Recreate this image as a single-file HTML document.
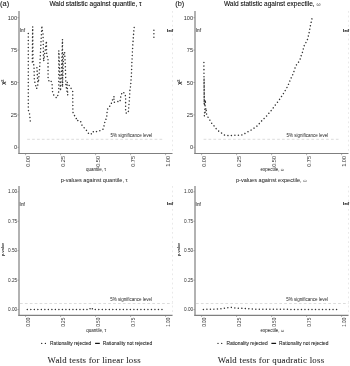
<!DOCTYPE html><html><head><meta charset="utf-8"><style>
html,body{margin:0;padding:0;background:#fff;width:350px;height:366px;overflow:hidden}
svg{display:block;filter:blur(0.35px)}
text{font-family:"Liberation Sans",sans-serif}
.tkt{font-size:5.6px;fill:#2e2e2e}
.tkb{font-size:4.7px;fill:#2e2e2e}
.lab{font-size:7.4px;fill:#1a1a1a;stroke:#1a1a1a;stroke-width:0.1px}
.ttl{font-size:6.55px;fill:#0a0a0a;stroke:#0a0a0a;stroke-width:0.08px}
.ttl2{font-size:5.58px;fill:#1e1e1e;stroke:#1e1e1e;stroke-width:0.03px}
.sig{font-size:4.5px;fill:#1e1e1e}
.inf{font-size:4.7px;fill:#444;stroke:#444;stroke-width:0.1px}
.inf2{font-size:4.1px;fill:#333;stroke:#333;stroke-width:0.25px}
.axt{font-size:4.5px;fill:#111}
.axt2{font-size:4.1px;fill:#111;stroke:#111;stroke-width:0.05px}
.chi{font-size:6px;fill:#111;stroke:#111;stroke-width:0.1px}
.leg{font-size:4.85px;fill:#222;stroke:#222;stroke-width:0.06px}
.cap{font-family:"Liberation Serif",serif;font-size:8.8px;letter-spacing:0.25px;fill:#1a1a1a;stroke:#1a1a1a;stroke-width:0.04px}
</style></head><body><svg width="350" height="366" viewBox="0 0 350 366"><rect width="350" height="366" fill="#fff"/><g class="soft"><line x1="172.5" y1="11" x2="172.5" y2="153.5" stroke="#d6d6d6" stroke-width="0.55" stroke-dasharray="1.8 2.8"/><line x1="19.0" y1="11" x2="19.0" y2="154.1" stroke="#7f7f7f" stroke-width="1.2"/><line x1="18.4" y1="153.5" x2="172.5" y2="153.5" stroke="#7f7f7f" stroke-width="1.2"/><line x1="17.3" y1="17.70" x2="19.0" y2="17.70" stroke="#7f7f7f" stroke-width="0.6"/><text x="17.1" y="19.72" text-anchor="end" class="tkt">100</text><line x1="17.3" y1="50.10" x2="19.0" y2="50.10" stroke="#7f7f7f" stroke-width="0.6"/><text x="17.1" y="52.12" text-anchor="end" class="tkt">75</text><line x1="17.3" y1="82.50" x2="19.0" y2="82.50" stroke="#7f7f7f" stroke-width="0.6"/><text x="17.1" y="84.52" text-anchor="end" class="tkt">50</text><line x1="17.3" y1="114.90" x2="19.0" y2="114.90" stroke="#7f7f7f" stroke-width="0.6"/><text x="17.1" y="116.92" text-anchor="end" class="tkt">25</text><line x1="17.3" y1="147.30" x2="19.0" y2="147.30" stroke="#7f7f7f" stroke-width="0.6"/><text x="17.1" y="149.32" text-anchor="end" class="tkt">0</text><line x1="25.6" y1="153.5" x2="25.6" y2="155.2" stroke="#7f7f7f" stroke-width="0.6"/><text transform="translate(30.02,155.90) rotate(-90)" text-anchor="end" class="tkt">0.00</text><line x1="60.6" y1="153.5" x2="60.6" y2="155.2" stroke="#7f7f7f" stroke-width="0.6"/><text transform="translate(65.02,155.90) rotate(-90)" text-anchor="end" class="tkt">0.25</text><line x1="95.6" y1="153.5" x2="95.6" y2="155.2" stroke="#7f7f7f" stroke-width="0.6"/><text transform="translate(100.02,155.90) rotate(-90)" text-anchor="end" class="tkt">0.50</text><line x1="130.6" y1="153.5" x2="130.6" y2="155.2" stroke="#7f7f7f" stroke-width="0.6"/><text transform="translate(135.02,155.90) rotate(-90)" text-anchor="end" class="tkt">0.75</text><line x1="165.6" y1="153.5" x2="165.6" y2="155.2" stroke="#7f7f7f" stroke-width="0.6"/><text transform="translate(170.02,155.90) rotate(-90)" text-anchor="end" class="tkt">1.00</text><line x1="172.5" y1="186" x2="172.5" y2="315.3" stroke="#d6d6d6" stroke-width="0.55" stroke-dasharray="1.8 2.8"/><line x1="19.0" y1="186" x2="19.0" y2="315.90000000000003" stroke="#7f7f7f" stroke-width="1.2"/><line x1="18.4" y1="315.3" x2="172.5" y2="315.3" stroke="#7f7f7f" stroke-width="1.2"/><line x1="17.3" y1="191.80" x2="19.0" y2="191.80" stroke="#7f7f7f" stroke-width="0.6"/><text x="17.1" y="193.49" text-anchor="end" class="tkb">1.00</text><line x1="17.3" y1="221.25" x2="19.0" y2="221.25" stroke="#7f7f7f" stroke-width="0.6"/><text x="17.1" y="222.94" text-anchor="end" class="tkb">0.75</text><line x1="17.3" y1="250.70" x2="19.0" y2="250.70" stroke="#7f7f7f" stroke-width="0.6"/><text x="17.1" y="252.39" text-anchor="end" class="tkb">0.50</text><line x1="17.3" y1="280.15" x2="19.0" y2="280.15" stroke="#7f7f7f" stroke-width="0.6"/><text x="17.1" y="281.84" text-anchor="end" class="tkb">0.25</text><line x1="17.3" y1="309.60" x2="19.0" y2="309.60" stroke="#7f7f7f" stroke-width="0.6"/><text x="17.1" y="311.29" text-anchor="end" class="tkb">0.00</text><line x1="25.6" y1="315.3" x2="25.6" y2="317.0" stroke="#7f7f7f" stroke-width="0.6"/><text transform="translate(29.69,317.70) rotate(-90)" text-anchor="end" class="tkb">0.00</text><line x1="60.6" y1="315.3" x2="60.6" y2="317.0" stroke="#7f7f7f" stroke-width="0.6"/><text transform="translate(64.69,317.70) rotate(-90)" text-anchor="end" class="tkb">0.25</text><line x1="95.6" y1="315.3" x2="95.6" y2="317.0" stroke="#7f7f7f" stroke-width="0.6"/><text transform="translate(99.69,317.70) rotate(-90)" text-anchor="end" class="tkb">0.50</text><line x1="130.6" y1="315.3" x2="130.6" y2="317.0" stroke="#7f7f7f" stroke-width="0.6"/><text transform="translate(134.69,317.70) rotate(-90)" text-anchor="end" class="tkb">0.75</text><line x1="165.6" y1="315.3" x2="165.6" y2="317.0" stroke="#7f7f7f" stroke-width="0.6"/><text transform="translate(169.69,317.70) rotate(-90)" text-anchor="end" class="tkb">1.00</text><line x1="348.5" y1="11" x2="348.5" y2="153.5" stroke="#d6d6d6" stroke-width="0.55" stroke-dasharray="1.8 2.8"/><line x1="195.0" y1="11" x2="195.0" y2="154.1" stroke="#7f7f7f" stroke-width="1.2"/><line x1="194.4" y1="153.5" x2="348.5" y2="153.5" stroke="#7f7f7f" stroke-width="1.2"/><line x1="193.3" y1="17.70" x2="195.0" y2="17.70" stroke="#7f7f7f" stroke-width="0.6"/><text x="193.1" y="19.72" text-anchor="end" class="tkt">100</text><line x1="193.3" y1="50.10" x2="195.0" y2="50.10" stroke="#7f7f7f" stroke-width="0.6"/><text x="193.1" y="52.12" text-anchor="end" class="tkt">75</text><line x1="193.3" y1="82.50" x2="195.0" y2="82.50" stroke="#7f7f7f" stroke-width="0.6"/><text x="193.1" y="84.52" text-anchor="end" class="tkt">50</text><line x1="193.3" y1="114.90" x2="195.0" y2="114.90" stroke="#7f7f7f" stroke-width="0.6"/><text x="193.1" y="116.92" text-anchor="end" class="tkt">25</text><line x1="193.3" y1="147.30" x2="195.0" y2="147.30" stroke="#7f7f7f" stroke-width="0.6"/><text x="193.1" y="149.32" text-anchor="end" class="tkt">0</text><line x1="201.6" y1="153.5" x2="201.6" y2="155.2" stroke="#7f7f7f" stroke-width="0.6"/><text transform="translate(206.02,155.90) rotate(-90)" text-anchor="end" class="tkt">0.00</text><line x1="236.6" y1="153.5" x2="236.6" y2="155.2" stroke="#7f7f7f" stroke-width="0.6"/><text transform="translate(241.02,155.90) rotate(-90)" text-anchor="end" class="tkt">0.25</text><line x1="271.6" y1="153.5" x2="271.6" y2="155.2" stroke="#7f7f7f" stroke-width="0.6"/><text transform="translate(276.02,155.90) rotate(-90)" text-anchor="end" class="tkt">0.50</text><line x1="306.6" y1="153.5" x2="306.6" y2="155.2" stroke="#7f7f7f" stroke-width="0.6"/><text transform="translate(311.02,155.90) rotate(-90)" text-anchor="end" class="tkt">0.75</text><line x1="341.6" y1="153.5" x2="341.6" y2="155.2" stroke="#7f7f7f" stroke-width="0.6"/><text transform="translate(346.02,155.90) rotate(-90)" text-anchor="end" class="tkt">1.00</text><line x1="348.5" y1="186" x2="348.5" y2="315.3" stroke="#d6d6d6" stroke-width="0.55" stroke-dasharray="1.8 2.8"/><line x1="195.0" y1="186" x2="195.0" y2="315.90000000000003" stroke="#7f7f7f" stroke-width="1.2"/><line x1="194.4" y1="315.3" x2="348.5" y2="315.3" stroke="#7f7f7f" stroke-width="1.2"/><line x1="193.3" y1="191.80" x2="195.0" y2="191.80" stroke="#7f7f7f" stroke-width="0.6"/><text x="193.1" y="193.49" text-anchor="end" class="tkb">1.00</text><line x1="193.3" y1="221.25" x2="195.0" y2="221.25" stroke="#7f7f7f" stroke-width="0.6"/><text x="193.1" y="222.94" text-anchor="end" class="tkb">0.75</text><line x1="193.3" y1="250.70" x2="195.0" y2="250.70" stroke="#7f7f7f" stroke-width="0.6"/><text x="193.1" y="252.39" text-anchor="end" class="tkb">0.50</text><line x1="193.3" y1="280.15" x2="195.0" y2="280.15" stroke="#7f7f7f" stroke-width="0.6"/><text x="193.1" y="281.84" text-anchor="end" class="tkb">0.25</text><line x1="193.3" y1="309.60" x2="195.0" y2="309.60" stroke="#7f7f7f" stroke-width="0.6"/><text x="193.1" y="311.29" text-anchor="end" class="tkb">0.00</text><line x1="201.6" y1="315.3" x2="201.6" y2="317.0" stroke="#7f7f7f" stroke-width="0.6"/><text transform="translate(205.69,317.70) rotate(-90)" text-anchor="end" class="tkb">0.00</text><line x1="236.6" y1="315.3" x2="236.6" y2="317.0" stroke="#7f7f7f" stroke-width="0.6"/><text transform="translate(240.69,317.70) rotate(-90)" text-anchor="end" class="tkb">0.25</text><line x1="271.6" y1="315.3" x2="271.6" y2="317.0" stroke="#7f7f7f" stroke-width="0.6"/><text transform="translate(275.69,317.70) rotate(-90)" text-anchor="end" class="tkb">0.50</text><line x1="306.6" y1="315.3" x2="306.6" y2="317.0" stroke="#7f7f7f" stroke-width="0.6"/><text transform="translate(310.69,317.70) rotate(-90)" text-anchor="end" class="tkb">0.75</text><line x1="341.6" y1="315.3" x2="341.6" y2="317.0" stroke="#7f7f7f" stroke-width="0.6"/><text transform="translate(345.69,317.70) rotate(-90)" text-anchor="end" class="tkb">1.00</text><path d="M27.2,139.3 H162.5" stroke="#cdcdcd" stroke-width="0.7" stroke-dasharray="2.7 2.2" fill="none"/><path d="M203.6,139.3 H338.5" stroke="#cdcdcd" stroke-width="0.7" stroke-dasharray="2.7 2.2" fill="none"/><path d="M20,303.5 H172.5" stroke="#cdcdcd" stroke-width="0.7" stroke-dasharray="2.7 2.2" fill="none"/><path d="M196,303.5 H348.5" stroke="#cdcdcd" stroke-width="0.7" stroke-dasharray="2.7 2.2" fill="none"/><text x="110.6" y="136.9" class="sig">5% significance level</text><text x="286.6" y="136.9" class="sig">5% significance level</text><text x="110.3" y="301.3" class="sig">5% significance level</text><text x="286.3" y="301.3" class="sig">5% significance level</text><text x="19.8" y="32" class="inf">Inf</text><text x="19.6" y="205.5" class="inf">Inf</text><text transform="translate(173.0,31.5) scale(1.35,0.8)" text-anchor="end" class="inf2">Inf</text><text transform="translate(173.0,204.7) scale(1.35,0.8)" text-anchor="end" class="inf2">Inf</text><text x="195.8" y="32" class="inf">Inf</text><text x="195.6" y="205.5" class="inf">Inf</text><text transform="translate(349.0,31.5) scale(1.35,0.8)" text-anchor="end" class="inf2">Inf</text><text transform="translate(349.0,204.7) scale(1.35,0.8)" text-anchor="end" class="inf2">Inf</text><text transform="translate(5.1,82.2) rotate(-90)" text-anchor="middle" class="chi">χ²</text><text transform="translate(3.9,249.5) rotate(-90)" text-anchor="middle" class="axt2">p-value</text><text transform="translate(181.1,82.2) rotate(-90)" text-anchor="middle" class="chi">χ²</text><text transform="translate(179.9,249.5) rotate(-90)" text-anchor="middle" class="axt2">p-value</text><text x="96" y="171.2" text-anchor="middle" class="axt">quantile, τ</text><text x="272" y="171.2" text-anchor="middle" class="axt">expectile, <tspan style="font-size:3.7px">ω</tspan></text><text x="96.3" y="331.6" text-anchor="middle" class="axt">quantile, τ</text><text x="272.2" y="331.5" text-anchor="middle" class="axt">expectile, <tspan style="font-size:3.7px">ω</tspan></text><path d="M28.3,33.4 L28.3,110.0 L29.5,113.4 L30.6,124.0" stroke="#333" stroke-width="1.5" stroke-linecap="round" stroke-dasharray="0.01 3.5" fill="none"/><path d="M32.3,62.0 L32.5,40.0 L32.7,26.6 L33.0,61.0 L34.0,66.0 L34.3,80.0 L36.6,88.7 L38.0,84.0 L36.9,67.6 L37.6,80.0 L38.4,82.7 L39.7,67.0 L40.1,60.0 L41.1,40.0 L41.9,25.7 L42.2,30.0 L43.0,33.0 L43.5,55.0 L43.7,61.3 L46.4,41.1 L46.7,55.4 L48.0,58.0 L48.1,79.0 L49.6,82.3 L51.3,81.4 L52.1,84.0 L52.3,90.6 L53.4,94.6 L56.7,98.0 L57.9,95.1 L58.8,91.0 L58.8,50.5 L60.5,91.0 L61.5,70.0 L62.5,39.3 L62.5,87.0 L63.5,55.0 L64.6,52.0 L65.3,64.0 L65.9,85.0 L67.8,95.1 L67.0,82.0 L71.0,88.3 L72.7,91.0 L72.9,112.0 L73.9,114.9 L76.1,117.4 L76.7,120.8 L78.4,120.3 L80.7,121.5 L81.5,124.3 L83.0,126.9 L85.3,128.6 L86.8,130.9 L87.9,132.6 L89.3,134.3 L91.3,133.9 L92.5,131.4 L95.1,132.3 L97.4,131.1 L100.3,130.6 L102.8,129.5 L103.7,126.9 L104.6,124.0 L104.9,120.8 L106.6,118.3 L106.9,114.9 L107.1,111.4 L107.7,108.6 L109.4,106.6 L111.1,104.3 L111.9,101.0 L113.2,98.7 L114.1,96.2 L113.9,100.0 L114.1,102.3 L117.4,101.4 L119.9,101.9 L121.0,95.0 L122.7,91.9 L125.0,93.6 L125.6,97.0 L125.6,111.3 L126.5,113.6 L128.4,111.3 L129.6,96.4 L129.9,89.6 L130.6,86.1 L131.4,75.0 L131.9,62.0 L132.5,50.0 L133.3,37.0 L134.4,24.9" stroke="#333" stroke-width="1.5" stroke-linecap="round" stroke-dasharray="0.01 3.5" fill="none"/><path d="M153.9,30.2 L153.9,37.6" stroke="#333" stroke-width="1.5" stroke-linecap="round" stroke-dasharray="0.01 3.5" fill="none"/><path d="M203.9,62.6 L204.2,104.0 L204.1,79.0 L204.4,106.0 L205.6,100.0 L204.3,116.0 L206.0,108.0 L206.6,114.5 L208.4,118.0 L209.4,119.3 L211.4,122.9 L213.9,125.7 L216.4,129.0 L219.0,131.4 L221.4,132.9 L224.3,135.0 L229.0,135.7 L233.6,135.3 L240.0,135.3 L243.3,134.7 L245.7,132.9 L248.6,131.4 L251.9,129.6 L257.5,125.7 L261.6,120.9 L266.4,116.2 L271.1,110.7 L275.2,105.2 L279.3,99.8 L283.4,93.6 L286.5,88.4 L288.2,85.0 L289.5,82.0 L290.6,78.9 L292.3,75.7 L293.4,73.0 L295.0,68.0 L296.6,64.6 L298.0,62.9 L299.8,60.2 L300.7,57.0 L301.6,54.3 L302.9,51.2 L303.5,47.5 L304.8,44.1 L306.6,41.6 L307.4,39.5 L309.1,32.9 L310.3,26.0 L311.8,19.4 L312.0,18.6" stroke="#333" stroke-width="1.5" stroke-linecap="round" stroke-dasharray="0.01 3.5" fill="none"/><path d="M27.3,309.5 L88.5,309.5 L89.7,308.5 L91.0,309.4 L92.3,308.2 L92.5,309.5 L162.0,309.5" stroke="#333" stroke-width="1.5" stroke-linecap="round" stroke-dasharray="0.01 3.5" fill="none"/><path d="M203.4,309.4 L215.1,309.1 L221.6,308.7 L225.1,308.0 L230.9,307.3 L235.1,308.0 L240.9,308.3 L246.6,308.7 L258.0,309.3 L337.8,309.5" stroke="#333" stroke-width="1.5" stroke-linecap="round" stroke-dasharray="0.01 3.5" fill="none"/><text x="0.1" y="6.0" class="lab">(a)</text><text x="175.3" y="6.0" class="lab">(b)</text><text x="95.5" y="6.1" text-anchor="middle" class="ttl">Wald statistic against quantile, τ</text><text x="272.2" y="6.1" text-anchor="middle" class="ttl">Wald statistic against expectile, <tspan style="font-size:5.2px;fill:#444;stroke:none">ω</tspan></text><text x="94.2" y="181.5" text-anchor="middle" class="ttl2">p-values against quantile, τ</text><text x="271.3" y="181.5" text-anchor="middle" class="ttl2">p-values against expectile, <tspan style="font-size:4.4px;fill:#444;stroke:none">ω</tspan></text><path d="M41.7,343.4 H46.0" stroke="#222" stroke-width="1.3" stroke-linecap="round" stroke-dasharray="0.01 3.7" fill="none"/><text x="50.1" y="345.1" class="leg">Rationality rejected</text><path d="M95.1,343.4 H99.8" stroke="#111" stroke-width="1.25"/><text x="102.8" y="345.1" class="leg">Rationality not rejected</text><path d="M218.0,343.4 H222.3" stroke="#222" stroke-width="1.3" stroke-linecap="round" stroke-dasharray="0.01 3.7" fill="none"/><text x="226.4" y="345.1" class="leg">Rationality rejected</text><path d="M271.4,343.4 H276.1" stroke="#111" stroke-width="1.25"/><text x="279.1" y="345.1" class="leg">Rationality not rejected</text></g><text x="94.2" y="362.6" text-anchor="middle" class="cap">Wald tests for linear loss</text><text x="271.0" y="362.6" text-anchor="middle" class="cap">Wald tests for quadratic loss</text></svg></body></html>
